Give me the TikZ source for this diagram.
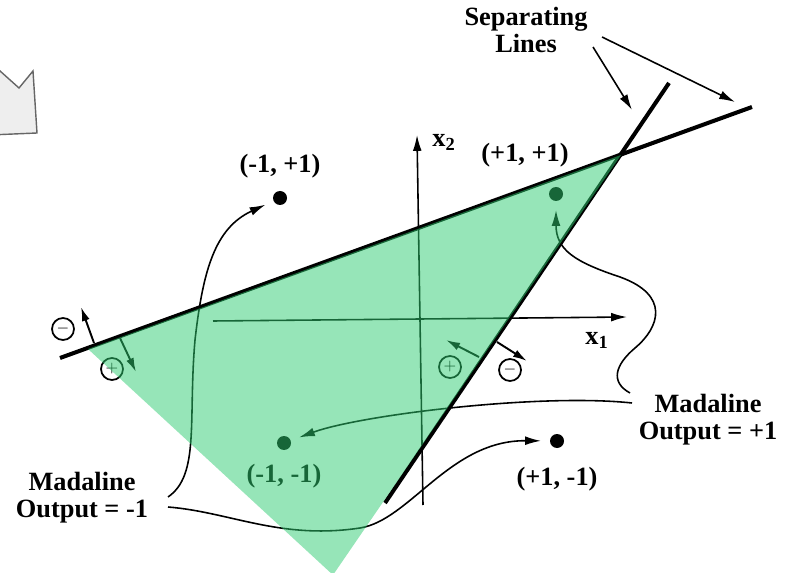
\documentclass[tikz,border=0pt]{standalone}
\usepackage{fontspec}
\setmainfont{Liberation Serif}
\usetikzlibrary{positioning, arrows.meta}

\definecolor{regiongreen}{HTML}{2ECC71}
\definecolor{tabgray}{HTML}{EEEEEE}

\begin{document}
\begin{tikzpicture}[
        x=0.02cm, y=-0.02cm,
        lbl/.style={font=\fontsize{15}{15.5}\selectfont\bfseries, align=center, inner sep=0pt},
        dot/.style={circle, fill=black, inner sep=0pt, minimum size=0.28cm, outer sep=0.18cm},
        sign/.style={circle, draw, line width=1pt, inner sep=0pt, minimum size=0.44cm, font=\small},
        sepline/.style={line width=2.3pt},
        axis/.style={-{Latex[length=9pt, width=5pt]}, line width=0.9pt},
        arrow/.style={-{Latex[length=9pt, width=5pt]}, line width=0.9pt},
        sidearrow/.style={-{Latex[length=8pt, width=4.5pt]}, line width=1.1pt}
    ]
        \path[use as bounding box, clip] (0,0) rectangle (786,573);

        % Corner tab
        \draw[fill=tabgray, draw=black!60, line width=0.8pt]
            (-10,62) -- (19,88) -- (33,71) -- (37,133) -- (-10,135);

        % Separating lines
        \coordinate (la) at (60,358);
        \coordinate (lb) at (752,107);
        \coordinate (ma) at (385,503);
        \coordinate (mb) at (669,83);
        \draw[sepline] (la) -- (lb);
        \draw[sepline] (ma) -- (mb);

        % Axes
        \coordinate (xo) at (213,321);
        \coordinate (xe) at (627,317);
        \coordinate (yo) at (423,505);
        \coordinate (ye) at (417,135);
        \draw[axis] (xo) -- (xe);
        \draw[axis] (yo) -- (ye);
        \node[lbl, anchor=base west] (xlab) at (585,345) {x\textsubscript{1}};
        \node[lbl, anchor=base west] (ylab) at (432,147) {x\textsubscript{2}};

        % Nodes
        \node[dot] (dnp) at (280,198) {};
        \node[dot] (dpp) at (556,194) {};
        \node[dot] (dnn) at (284,443) {};
        \node[dot] (dpn) at (557,441) {};
        \node[lbl, above=0.08cm of dnp] (tnp) {(-1, +1)};
        \node[lbl] (tpp) at (525,155) {(+1, +1)};
        \node[lbl, below=0.09cm of dnn] (tnn) {(-1, -1)};
        \node[lbl, below=0.19cm of dpn] (tpn) {(+1, -1)};

        \node[lbl] (sep) at (526,30) {Separating\\Lines};
        \node[lbl] (outpos) at (708,420) {Madaline\\Output = +1};
        \node[lbl] (outneg) at (82,498) {Madaline\\Output = -1};

        % Signs
        \node[sign] (m1) at (63,329) {$-$};
        \node[sign] (p1) at (112,369) {$+$};
        \node[sign] (p2) at (450,367) {$+$};
        \node[sign] (m2) at (510,370) {$-$};

        \coordinate (m1a) at (94,343);
        \coordinate (m1b) at (81,307);
        \coordinate (p1a) at (120,338);
        \coordinate (p1b) at (136,372);
        \coordinate (p2a) at (479,357);
        \coordinate (p2b) at (446,340);
        \coordinate (m2a) at (497,342);
        \coordinate (m2b) at (527,361);
        \draw[sidearrow] (m1a) -- (m1b);
        \draw[sidearrow] (p1a) -- (p1b);
        \draw[sidearrow] (p2a) -- (p2b);
        \draw[sidearrow] (m2a) -- (m2b);

        % Arrows
        \coordinate (sa) at (593,47);
        \coordinate (sb) at (602,37);
        \coordinate (ta) at (632,110);
        \coordinate (tb) at (735,102);
        \draw[arrow] (sa) -- (ta);
        \draw[arrow] (sb) -- (tb);

        \coordinate (ng1) at (168,497);
        \coordinate (ng2) at (168,507);
        \coordinate (ps1) at (632,403);
        \coordinate (ps2) at (630,393);
        \draw[arrow] (ng1) .. controls (200,475) and (188,420) .. (195,340)
            .. controls (203,270) and (215,228) .. (dnp);
        \draw[arrow] (ng2) .. controls (230,512) and (280,540) .. (360,528)
            .. controls (410,520) and (450,440) .. (dpn);
        \draw[arrow] (ps1) .. controls (540,393) and (360,415) .. (dnn);
        \draw[arrow] (ps2) .. controls (610,382) and (615,365) .. (635,348)
            .. controls (660,327) and (670,295) .. (620,277)
            .. controls (575,262) and (556,250) .. (dpp);

        % Region
        \fill[regiongreen, fill opacity=0.5] (88,349) -- (621,155) -- (333,575) -- cycle;
    \end{tikzpicture}
\end{document}
